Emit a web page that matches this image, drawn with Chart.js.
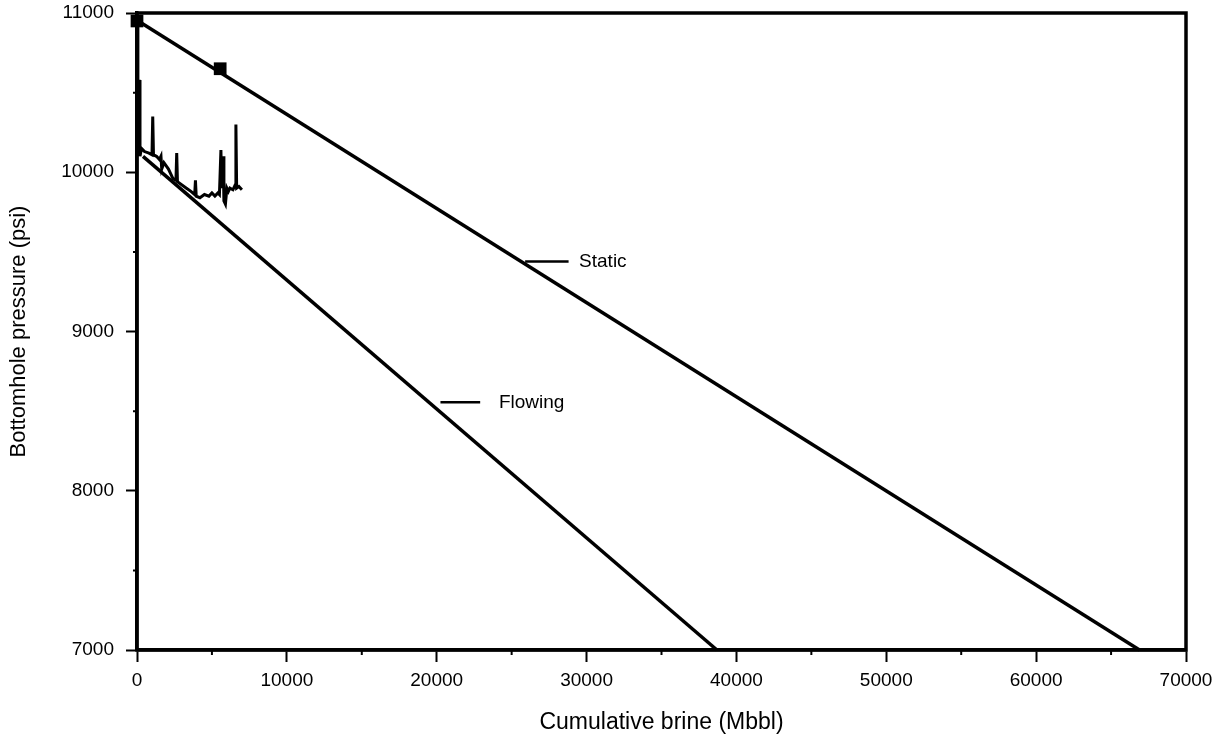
<!DOCTYPE html>
<html>
<head>
<meta charset="utf-8">
<script src="https://cdn.jsdelivr.net/npm/chart.js@4"></script>
<style>
  html, body { margin: 0; padding: 0; background: #fff; }
  #wrap { width: 1232px; height: 745px; position: relative; }
</style>
</head>
<body>
<div id="wrap"><canvas id="chart"></canvas></div>
<script>
// Bottomhole pressure vs cumulative brine

const xTicks = [0, 10000, 20000, 30000, 40000, 50000, 60000, 70000];
const yTicks = [7000, 8000, 9000, 10000, 11000];

// straight trend lines
const staticX = [0, 66900];
const staticP = [10955, 7000];
const flowingX = [400, 38700];
const flowingP = [10100, 7000];

// static measured points (squares)
const staticPtsX = [0, 5550];
const staticPtsP = [10950, 10650];

// measured flowing pressure (noisy early record)
const measX = [0, 60, 100, 150, 200, 300, 500, 800, 1000, 1050, 1100, 1300, 1500, 1600, 1650, 1800,
  2100, 2400, 2600, 2650, 2700, 3000, 3300, 3600, 3850, 3900, 3950, 4200, 4500, 4800, 5000, 5200,
  5400, 5500, 5600, 5650, 5750, 5800, 5900, 6000, 6100, 6200, 6400, 6550, 6600, 6650, 6800, 7000];
const measP = [10950, 10400, 10100, 10580, 10100, 10150, 10130, 10120, 10110, 10350, 10110, 10100, 10080, 10100, 10020, 10060,
  10020, 9960, 9950, 10120, 9940, 9920, 9900, 9880, 9860, 9950, 9850, 9840, 9860, 9850, 9870, 9850,
  9870, 9860, 10140, 9900, 10100, 9820, 9800, 9900, 9880, 9900, 9890, 9920, 10300, 9900, 9910, 9890];

// label leaders
const labels = ['Static', 'Flowing'];
const leaderX1 = [25900, 20250];
const leaderX2 = [28800, 22900];
const leaderP = [9440, 8555];
const labelX = [29500, 24150];

const FONT = '"Liberation Sans", Arial, sans-serif';

function pts(xs, ys) {
  return xs.map((x, i) => ({ x, y: ys[i] }));
}

const lineStyle = { borderColor: '#000', borderWidth: 3.5, pointRadius: 0, fill: false, tension: 0 };

const datasets = [
  Object.assign({ data: pts(staticX, staticP) }, lineStyle),
  Object.assign({ data: pts(flowingX, flowingP) }, lineStyle),
  Object.assign({ data: pts(measX, measP), borderJoinStyle: 'miter' }, lineStyle, { borderWidth: 3 }),
  { data: pts(staticPtsX, staticPtsP), showLine: false, pointStyle: 'rect', pointRadius: 9,
    backgroundColor: '#000', borderColor: '#000', borderWidth: 0 }
];
labels.forEach((_, i) => {
  datasets.push(Object.assign({ data: [{ x: leaderX1[i], y: leaderP[i] }, { x: leaderX2[i], y: leaderP[i] }] }, lineStyle, { borderWidth: 2.5 }));
});

// frame, minor ticks and text labels
const extras = {
  id: 'extras',
  afterDraw(chart) {
    const ctx = chart.ctx;
    const a = chart.chartArea;
    const xs = chart.scales.x, ys = chart.scales.y;
    ctx.save();
    ctx.strokeStyle = '#000';
    ctx.lineWidth = 3.5;
    ctx.strokeRect(a.left, a.top, a.right - a.left, a.bottom - a.top);
    ctx.lineWidth = 2;
    ctx.beginPath();
    for (let v = 5000; v < 70000; v += 10000) {
      const px = xs.getPixelForValue(v);
      ctx.moveTo(px, a.bottom);
      ctx.lineTo(px, a.bottom + 5);
    }
    for (let v = 7500; v < 11000; v += 1000) {
      const py = ys.getPixelForValue(v);
      ctx.moveTo(a.left, py);
      ctx.lineTo(a.left - 4, py);
    }
    ctx.stroke();
    ctx.fillStyle = '#000';
    ctx.font = '19px ' + FONT;
    ctx.textBaseline = 'middle';
    labels.forEach((t, i) => {
      ctx.fillText(t, xs.getPixelForValue(labelX[i]), ys.getPixelForValue(leaderP[i]));
    });
    ctx.restore();
  }
};

new Chart(document.getElementById('chart'), {
  type: 'line',
  data: { datasets },
  options: {
    responsive: true,
    maintainAspectRatio: false,
    animation: false,
    layout: { padding: { left: 0, right: 46, top: 13, bottom: 0 } },
    plugins: { legend: { display: false }, tooltip: { enabled: false } },
    elements: { point: { radius: 0 } },
    clip: false,
    scales: {
      x: {
        type: 'linear', min: 0, max: 70000,
        afterBuildTicks: s => { s.ticks = xTicks.map(v => ({ value: v })); },
        afterFit: s => { s.height = 95; s.paddingLeft = 0; s.paddingRight = 0; },
        grid: { drawOnChartArea: false, color: '#000', tickLength: 12, tickWidth: 2, tickColor: '#000' },
        border: { color: '#000', width: 3.5 },
        ticks: { color: '#000', font: { family: FONT, size: 19 }, padding: 7, maxRotation: 0, callback: v => String(v) },
        title: { display: true, text: 'Cumulative brine (Mbbl)', color: '#000', font: { family: FONT, size: 23 }, padding: { top: 0, bottom: 9 } }
      },
      y: {
        type: 'linear', min: 7000, max: 11000,
        afterBuildTicks: s => { s.ticks = yTicks.map(v => ({ value: v })); },
        afterFit: s => { s.width = 137; s.paddingTop = 0; s.paddingBottom = 0; },
        grid: { drawOnChartArea: false, color: '#000', tickLength: 11, tickWidth: 2, tickColor: '#000' },
        border: { color: '#000', width: 3.5 },
        ticks: { color: '#000', font: { family: FONT, size: 19 }, padding: 12, callback: v => String(v) },
        title: { display: true, text: 'Bottomhole pressure (psi)', color: '#000', font: { family: FONT, size: 22 }, padding: { top: 6, bottom: 0 } }
      }
    }
  },
  plugins: [extras]
});
</script>
</body>
</html>
